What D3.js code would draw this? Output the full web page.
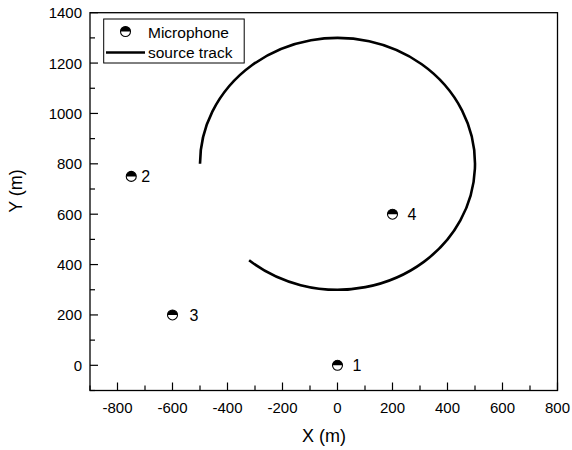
<!DOCTYPE html>
<html>
<head>
<meta charset="utf-8">
<script src="https://cdn.jsdelivr.net/npm/d3@7"></script>
<style>
  body { margin: 0; background: #fff; }
  text { font-family: "Liberation Sans", Arial, sans-serif; fill: #000; }
</style>
</head>
<body>
<svg id="chart" width="572" height="450"></svg>
<script>
// ---- data ----
var micNames = ['1', '2', '3', '4'];
var micX = [0, -750, -600, 200];
var micY = [0, 750, 200, 600];
var micLabelDx = [15, 10, 17, 15];

// source track: circular arc
var trackCenter = [0, 800];
var trackRadius = 500;
var trackStartDeg = 180;   // leftmost point
var trackEndDeg = 230;     // lower-left end, after going round clockwise

var xTicks = [-800, -600, -400, -200, 0, 200, 400, 600, 800];
var yTicks = [0, 200, 400, 600, 800, 1000, 1200, 1400];

// ---- layout ----
var svg = d3.select('#chart');
var plotLeft = 90, plotRight = 557.5, plotTop = 12.7, plotBottom = 390.5;

var x = d3.scaleLinear().domain([-900, 800]).range([plotLeft, plotRight]);
var y = d3.scaleLinear().domain([-100, 1400]).range([plotBottom, plotTop]);

// frame
svg.append('rect')
  .attr('x', plotLeft).attr('y', plotTop)
  .attr('width', plotRight - plotLeft).attr('height', plotBottom - plotTop)
  .attr('fill', 'none').attr('stroke', '#000').attr('stroke-width', 1.3);

// bottom axis, ticks pointing inward
var xAxis = svg.append('g').attr('transform', 'translate(0,' + plotBottom + ')');
xAxis.selectAll('line').data(d3.range(-900, 801, 100))
  .enter().append('line')
  .attr('x1', x).attr('x2', x)
  .attr('y1', 0).attr('y2', function (d) { return d % 200 === 0 ? -8 : -5; })
  .attr('stroke', '#000').attr('stroke-width', 1.2);
xAxis.selectAll('text').data(xTicks).enter().append('text')
  .attr('x', x).attr('y', 22)
  .attr('text-anchor', 'middle')
  .attr('font-size', '15px')
  .text(function (d) { return d; });

// left axis
var yAxis = svg.append('g').attr('transform', 'translate(' + plotLeft + ',0)');
yAxis.selectAll('line').data(d3.range(-100, 1401, 100))
  .enter().append('line')
  .attr('y1', y).attr('y2', y)
  .attr('x1', 0).attr('x2', function (d) { return d % 200 === 0 ? 8 : 5; })
  .attr('stroke', '#000').attr('stroke-width', 1.2);
yAxis.selectAll('text').data(yTicks).enter().append('text')
  .attr('x', -8).attr('y', function (d) { return y(d) + 5.5; })
  .attr('text-anchor', 'end')
  .attr('font-size', '15px')
  .text(function (d) { return d; });

// axis titles
svg.append('text')
  .attr('x', 324).attr('y', 442)
  .attr('text-anchor', 'middle')
  .attr('font-size', '18px')
  .text('X (m)');
svg.append('text')
  .attr('transform', 'translate(22,191) rotate(-90)')
  .attr('text-anchor', 'middle')
  .attr('font-size', '18px')
  .text('Y (m)');

// source track as an elliptical arc in pixel space (scales are not isotropic)
var rad = Math.PI / 180;
var p0 = [trackCenter[0] + trackRadius * Math.cos(trackStartDeg * rad),
          trackCenter[1] + trackRadius * Math.sin(trackStartDeg * rad)];
var p1 = [trackCenter[0] + trackRadius * Math.cos(trackEndDeg * rad),
          trackCenter[1] + trackRadius * Math.sin(trackEndDeg * rad)];
var rx = x(trackRadius) - x(0);
var ry = y(0) - y(trackRadius);
svg.append('path')
  .attr('d', 'M' + x(p0[0]) + ',' + y(p0[1]) +
             'A' + rx + ',' + ry + ' 0 1 1 ' + x(p1[0]) + ',' + y(p1[1]))
  .attr('fill', 'none').attr('stroke', '#000').attr('stroke-width', 2.6);

// half-filled microphone marker (top half black)
function drawMic(g, cx, cy) {
  var r = 5;
  g.append('circle').attr('cx', cx).attr('cy', cy).attr('r', r)
    .attr('fill', '#fff').attr('stroke', '#000').attr('stroke-width', 1.1);
  g.append('path')
    .attr('d', 'M' + (cx - r) + ',' + cy + 'A' + r + ',' + r + ' 0 0 1 ' + (cx + r) + ',' + cy + 'Z')
    .attr('fill', '#000');
}

var mics = svg.append('g').attr('class', 'mics');
micNames.forEach(function (name, i) {
  var cx = x(micX[i]), cy = y(micY[i]);
  drawMic(mics, cx, cy);
  mics.append('text')
    .attr('x', cx + micLabelDx[i]).attr('y', cy + 6)
    .attr('font-size', '16px')
    .text(name);
});

// legend
var legend = svg.append('g');
legend.append('rect')
  .attr('x', 103.7).attr('y', 19).attr('width', 140.5).attr('height', 44)
  .attr('fill', '#fff').attr('stroke', '#000').attr('stroke-width', 1);
drawMic(legend, 125.5, 31.5);
legend.append('text').attr('x', 148).attr('y', 37.5).attr('font-size', '15.5px').text('Microphone');
legend.append('line')
  .attr('x1', 106).attr('x2', 145).attr('y1', 52.5).attr('y2', 52.5)
  .attr('stroke', '#000').attr('stroke-width', 2.6);
legend.append('text').attr('x', 148).attr('y', 57.5).attr('font-size', '15.5px').text('source track');
</script>
</body>
</html>
